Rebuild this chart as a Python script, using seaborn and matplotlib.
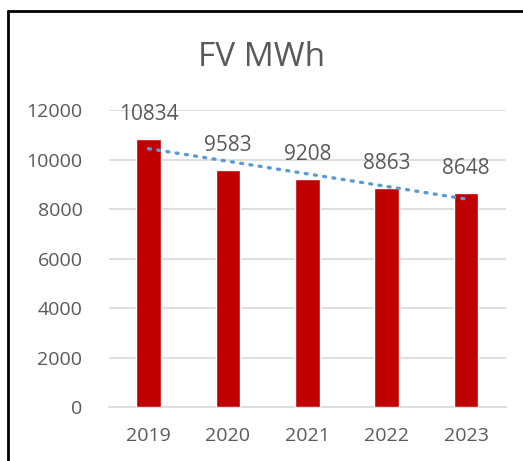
import numpy as np
import pandas as pd
import matplotlib
matplotlib.use("Agg")
import matplotlib.pyplot as plt
import seaborn as sns
from matplotlib.lines import Line2D

years = ["2019", "2020", "2021", "2022", "2023"]
mwh = [10834, 9583, 9208, 8863, 8648]

df = pd.DataFrame({"year": years, "mwh": mwh})

sns.set_theme(style="white")
plt.rcParams["font.family"] = ["Open Sans", "DejaVu Sans"]
txt = "#595959"

fig = plt.figure(figsize=(5.23, 4.61), dpi=100)
ax = fig.add_axes([0.208, 0.117, 0.759, 0.644])

sns.barplot(data=df, x="year", y="mwh", color="#C00000", width=0.31,
            saturation=1, ax=ax, zorder=3)

# linear trendline
xs = np.arange(len(years))
k, b = np.polyfit(xs, mwh, 1)
ax.plot(xs, k * xs + b, linestyle=(0, (0.6, 2.2)), dash_capstyle="round",
        color="#5B9BD5", linewidth=2.4, zorder=4)

for i, v in enumerate(mwh):
    ax.text(i, v + 560, str(v), ha="center", va="bottom", fontsize=15,
            color=txt, zorder=5)

ax.set_ylim(0, 12000)
ax.set_xlim(-0.5, 4.5)
ax.set_yticks(range(0, 12001, 2000))
ax.yaxis.grid(True, color="#D9D9D9", linewidth=1.2)
ax.set_axisbelow(True)
for s in ["top", "right", "left"]:
    ax.spines[s].set_visible(False)
ax.spines["bottom"].set_color("#D9D9D9")
ax.spines["bottom"].set_linewidth(1.2)
ax.tick_params(axis="both", length=0, labelsize=14, labelcolor=txt)
ax.tick_params(axis="y", pad=19)
ax.tick_params(axis="x", pad=14)
ax.set_xlabel("")
ax.set_ylabel("")

fig.text(0.5, 0.876, "FV MWh", ha="center", va="center", fontsize=24, color=txt)

# chart frame (left and top edges visible)
fig.add_artist(Line2D([0.016, 0.016], [0.0, 0.977], transform=fig.transFigure,
                      color="black", linewidth=2))
fig.add_artist(Line2D([0.016, 1.0], [0.977, 0.977], transform=fig.transFigure,
                      color="black", linewidth=2))

fig.savefig("out.png", dpi=100)
